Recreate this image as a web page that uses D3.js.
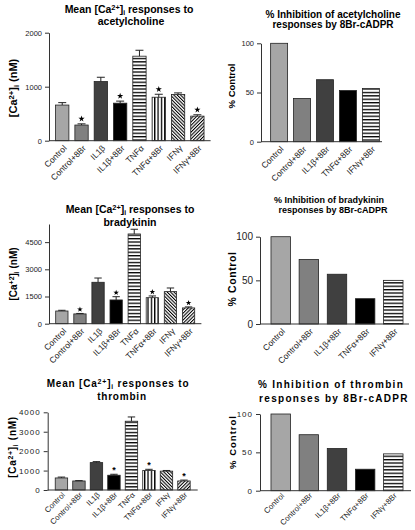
<!DOCTYPE html>
<html><head><meta charset="utf-8">
<script src="https://cdn.jsdelivr.net/npm/d3@7"></script>
<style>html,body{margin:0;padding:0;background:#fff;}svg{display:block;}</style>
</head><body>
<script>
// ---------- data ----------
const categories = ["Control","Control+8Br","IL1β","IL1β+8Br","TNFα","TNFα+8Br","IFNγ","IFNγ+8Br"];
const pctCategories = ["Control","Control+8Br","IL1β+8Br","TNFα+8Br","IFNγ+8Br"];

const achMean = [660, 290, 1095, 695, 1565, 805, 855, 455];
const achErr  = [45, 22, 80, 38, 110, 55, 30, 25];
const achSig  = [0, 1, 0, 1, 0, 1, 0, 1];

const brkMean = [700, 540, 2285, 1310, 4950, 1435, 1770, 870];
const brkErr  = [40, 25, 235, 180, 260, 95, 200, 55];
const brkSig  = [0, 1, 0, 1, 0, 1, 0, 1];

const thrMean = [620, 465, 1410, 760, 3540, 1000, 970, 465];
const thrErr  = [45, 18, 50, 50, 220, 65, 35, 45];
const thrSig  = [0, 0, 0, 1, 0, 1, 0, 1];

const achPct = [100, 44, 63, 52, 54];
const brkPct = [100, 74, 57, 29, 50];
const thrPct = [100, 73, 55, 28, 48];

const achTicks = [0, 1000, 2000];
const brkTicks = [0, 1500, 3000, 4500];
const thrTicks = [0, 1000, 2000, 3000, 4000];
const pctTicks = [0, 50, 100];

// ---------- drawing ----------
const FONT = "'Liberation Sans', Arial, sans-serif";
const svg = d3.select("body").append("svg").attr("width",415).attr("height",530)
  .style("font-family", FONT);

const defs = svg.append("defs");
function stripe(id, w, h, rect){
  const p = defs.append("pattern").attr("id",id).attr("patternUnits","userSpaceOnUse")
    .attr("width",w).attr("height",h);
  p.append("rect").attr("width",w).attr("height",h).attr("fill","#fff");
  p.append("rect").attr("x",rect[0]).attr("y",rect[1]).attr("width",rect[2]).attr("height",rect[3]).attr("fill","#000");
  return p;
}
stripe("hs", 4, 3.4, [0,0,4,1.3]);
stripe("vs", 3.35, 4, [0,0,1.3,4]);
stripe("dA", 2.4, 4, [0,0,1.05,4]).attr("patternTransform","rotate(-45)");
stripe("dB", 2.4, 4, [0,0,1.05,4]).attr("patternTransform","rotate(45)");

const fills = ["#a6a6a6","#808080","#404040","#000000","url(#hs)","url(#vs)","url(#dA)","url(#dB)"];
const pctFills = ["#a6a6a6","#808080","#404040","#000000","url(#hs)"];

function richText(g, parts){
  parts.forEach(p=>{
    const t = g.append("tspan").text(p[0]);
    if(p[1]==="sup") t.attr("baseline-shift","3.5").attr("font-size","70%");
    if(p[1]==="sub") t.attr("baseline-shift","-1.5").attr("font-size","65%");
  });
}

function panel(cfg){
  const g = svg.append("g");
  const x = d3.scaleBand().domain(cfg.cats).range([cfg.x0, cfg.x1])
    .paddingInner(cfg.padIn).paddingOuter(cfg.padOut);
  const y = d3.scaleLinear().domain(cfg.domain).range([cfg.y0, cfg.yTop]);

  // bars
  g.selectAll("rect.bar").data(cfg.values).join("rect").attr("class","bar")
    .attr("x",(d,i)=>x(cfg.cats[i])).attr("width",x.bandwidth())
    .attr("y",d=>y(d)).attr("height",d=>y(0)-y(d))
    .attr("fill",(d,i)=>cfg.fills[i]).attr("stroke","#222").attr("stroke-width",0.8);

  // error bars
  if(cfg.err){
    const cap = x.bandwidth()*0.6;
    cfg.values.forEach((v,i)=>{
      const cx = x(cfg.cats[i]) + x.bandwidth()/2;
      const yt = y(v + cfg.err[i]);
      g.append("line").attr("x1",cx).attr("x2",cx).attr("y1",y(v)).attr("y2",yt)
        .attr("stroke","#222").attr("stroke-width",1);
      g.append("line").attr("x1",cx-cap/2).attr("x2",cx+cap/2).attr("y1",yt).attr("y2",yt)
        .attr("stroke","#222").attr("stroke-width",1);
      if(cfg.sig[i]){
        if(cfg.asterisk){
          g.append("text").attr("x",cx).attr("y",yt-1.5).attr("text-anchor","middle")
            .attr("font-size",9).attr("font-weight","bold").text("*");
        } else {
          g.append("path").attr("d", d3.symbol(d3.symbolStar, cfg.starSize)())
            .attr("transform",`translate(${cx},${yt-cfg.starGap})`).attr("fill","#000");
        }
      }
    });
  }

  // y axis
  const ax = g.append("g").attr("transform",`translate(${cfg.x0},0)`)
    .call(d3.axisLeft(y).tickValues(cfg.ticks).tickFormat(d3.format("d"))
      .tickSize(4).tickSizeOuter(0).tickPadding(3));
  ax.select(".domain").attr("stroke","#333");
  ax.selectAll(".tick line").attr("stroke","#333");
  ax.selectAll("text").attr("font-family",FONT).attr("font-size",cfg.tickFont)
    .attr("fill","#222").style("letter-spacing",(cfg.tickLS||0)+"px");

  // baseline
  g.append("line").attr("x1",cfg.x0).attr("x2",cfg.xEnd||cfg.x1).attr("y1",y(0)).attr("y2",y(0))
    .attr("stroke","#333").attr("stroke-width",1);

  // x labels
  cfg.cats.forEach(c=>{
    const cx = x(c) + x.bandwidth()/2;
    g.append("text").attr("text-anchor","end")
      .attr("transform",`translate(${cx+cfg.lblDx},${y(0)+cfg.lblDy}) rotate(-45)`)
      .attr("font-size",cfg.lblFont).attr("fill","#222").text(c);
  });

  // title
  cfg.title.forEach((line,i)=>{
    const t = g.append("text").attr("x",cfg.titleX[i]).attr("y",cfg.titleY[i])
      .attr("text-anchor","middle").attr("font-weight","bold")
      .attr("font-size",cfg.titleFont).style("letter-spacing",(cfg.titleLS||0)+"px");
    richText(t, line);
  });

  // y label
  const yl = g.append("text").attr("text-anchor","middle").attr("font-weight","bold")
    .attr("font-size",cfg.ylFont).style("letter-spacing",(cfg.ylLS||0)+"px")
    .attr("transform",`translate(${cfg.ylX},${cfg.ylY}) rotate(-90)`);
  richText(yl, cfg.ylabel);
}

const caLabel = [["[Ca"],["2+","sup"],["]"],["i","sub"],[" (nM)"]];
const caLabel2 = [["[Ca"],["+2","sup"],["]"],["i","sub"],[" (nM)"]];
const meanLine = [["Mean [Ca"],["2+","sup"],["]"],["i","sub"],[" responses to"]];
const pctLabel = [["% Control"]];

panel({cats:categories, values:achMean, err:achErr, sig:achSig, fills:fills,
  x0:49, x1:210.6, y0:140.7, yTop:32.7, domain:[0,2000], ticks:achTicks, padIn:0.31, padOut:0.34,
  tickFont:7.5, lblFont:8.5, lblDx:5, lblDy:8, starSize:12, starGap:5,
  title:[meanLine,[["acetylcholine"]]], titleX:[129,131], titleY:[12.5,25], titleFont:10.5,
  ylabel:caLabel, ylFont:11, ylX:17, ylY:88});

panel({cats:pctCategories, values:achPct, fills:pctFills,
  x0:261, x1:389, xEnd:382, y0:141.7, yTop:43.3, domain:[0,100], ticks:pctTicks, padIn:0.26, padOut:0.42,
  tickFont:7.5, lblFont:8.5, lblDx:5, lblDy:8,
  title:[[["% Inhibition of acetylcholine"]],[["responses by 8Br-cADPR"]]], titleX:[333,333], titleY:[17.5,28], titleFont:10,
  ylabel:pctLabel, ylFont:9.5, ylX:235, ylY:86});

panel({cats:categories, values:brkMean, err:brkErr, sig:brkSig, fills:fills,
  x0:49, x1:201.4, y0:323.7, yTop:224, domain:[0,5500], ticks:brkTicks, padIn:0.32, padOut:0.37,
  tickFont:7.5, lblFont:8.5, lblDx:5, lblDy:8, starSize:10, starGap:4,
  title:[meanLine,[["bradykinin"]]], titleX:[130,130], titleY:[213,225.5], titleFont:10.5,
  ylabel:caLabel2, ylFont:10, ylX:16.5, ylY:274});

panel({cats:pctCategories, values:brkPct, fills:pctFills,
  x0:260, x1:414, xEnd:409, y0:324, yTop:236.7, domain:[0,100], ticks:pctTicks, padIn:0.31, padOut:0.39,
  tickFont:10, lblFont:8.5, lblDx:5, lblDy:8,
  title:[[["% Inhibition of  bradykinin"]],[["responses by 8Br-cADPR"]]], titleX:[329,333], titleY:[203,213], titleFont:9,
  ylabel:pctLabel, ylFont:10.5, ylLS:0.6, ylX:235.5, ylY:279});

panel({cats:categories, values:thrMean, err:thrErr, sig:thrSig, fills:fills, asterisk:true,
  x0:47.7, x1:197.7, y0:490, yTop:412.3, domain:[0,4000], ticks:thrTicks, padIn:0.29, padOut:0.43,
  tickFont:8, tickLS:1, lblFont:7.8, lblDx:4, lblDy:5.5,
  title:[meanLine,[["thrombin"]]], titleX:[118,122], titleY:[386.5,399.5], titleFont:10, titleLS:0.8,
  ylabel:caLabel, ylFont:10, ylLS:0.7, ylX:15.5, ylY:447});

panel({cats:pctCategories, values:thrPct, fills:pctFills,
  x0:260, x1:414, xEnd:411, y0:490.7, yTop:414, domain:[0,100], ticks:pctTicks, padIn:0.31, padOut:0.39,
  tickFont:8, tickLS:1, lblFont:7.8, lblDx:4, lblDy:5.5,
  title:[[["% Inhibition of thrombin"]],[["responses by 8Br-cADPR"]]], titleX:[331,334], titleY:[388,401.5], titleFont:10, titleLS:1.3,
  ylabel:pctLabel, ylFont:9.5, ylLS:1, ylX:235.5, ylY:442});
</script>
</body></html>
